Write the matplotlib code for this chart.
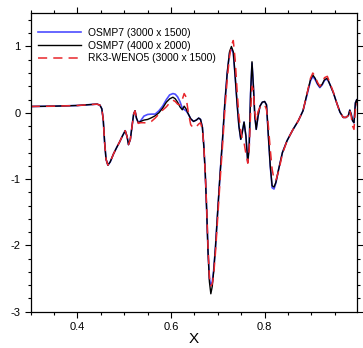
import matplotlib
matplotlib.use("Agg")
import matplotlib.pyplot as plt
from matplotlib.ticker import MultipleLocator

plt.rcParams["font.family"] = ["Liberation Sans", "DejaVu Sans"]
plt.rcParams["axes.unicode_minus"] = False

# shared x positions of the traced samples
x = [0.300, 0.350, 0.400, 0.430, 0.442, 0.448, 0.452, 0.455, 0.458, 0.461,
     0.465, 0.470, 0.477, 0.484, 0.490, 0.496, 0.502, 0.506, 0.509, 0.513,
     0.517, 0.520, 0.523, 0.526, 0.530, 0.535, 0.542, 0.550, 0.558, 0.566,
     0.574, 0.582, 0.590, 0.597, 0.604, 0.609, 0.614, 0.619, 0.624, 0.628,
     0.632, 0.637, 0.642, 0.648, 0.654, 0.659, 0.663, 0.667, 0.670, 0.673,
     0.676, 0.679, 0.682, 0.685, 0.688, 0.691, 0.695, 0.700, 0.705, 0.710,
     0.715, 0.720, 0.725, 0.729, 0.733, 0.737, 0.741, 0.745, 0.749, 0.752,
     0.756, 0.760, 0.764, 0.767, 0.770, 0.773, 0.776, 0.779, 0.782, 0.786,
     0.790, 0.795, 0.800, 0.804, 0.808, 0.812, 0.816, 0.820, 0.824, 0.830,
     0.838, 0.848, 0.860, 0.872, 0.882, 0.891, 0.898, 0.903, 0.908, 0.913,
     0.918, 0.923, 0.928, 0.934, 0.940, 0.947, 0.954, 0.961, 0.968, 0.974,
     0.979, 0.982, 0.985, 0.988, 0.991, 0.994, 0.997, 1.000]

# OSMP7 (4000 x 2000)
y_fine = [0.095, 0.100, 0.110, 0.125, 0.130, 0.115, 0.060, -0.10, -0.45, -0.70,
          -0.79, -0.74, -0.62, -0.52, -0.44, -0.35, -0.27, -0.36, -0.48, -0.40,
          -0.18, -0.02, 0.03, -0.08, -0.15, -0.13, -0.11, -0.10, -0.075, -0.045,
          0.00, 0.07, 0.16, 0.21, 0.235, 0.21, 0.16, 0.09, 0.045, 0.10,
          0.06, -0.02, -0.09, -0.13, -0.11, -0.08, -0.10, -0.22, -0.50, -0.90,
          -1.45, -2.10, -2.55, -2.73, -2.62, -2.40, -2.02, -1.45, -0.90, -0.40,
          0.15, 0.60, 0.92, 1.00, 0.92, 0.55, 0.15, -0.20, -0.40, -0.30,
          -0.14, -0.35, -0.75, -0.50, 0.30, 0.77, 0.40, -0.05, -0.25, -0.05,
          0.10, 0.16, 0.17, 0.12, -0.35, -0.80, -1.10, -1.12, -1.05, -0.85,
          -0.60, -0.42, -0.26, -0.12, 0.03, 0.30, 0.50, 0.57, 0.52, 0.44,
          0.39, 0.43, 0.50, 0.52, 0.42, 0.30, 0.15, 0.01, -0.07, -0.07,
          -0.04, 0.04, -0.02, -0.12, -0.15, 0.15, 0.20, 0.05]

# OSMP7 (3000 x 1500)
y_osmp = [0.095, 0.100, 0.110, 0.125, 0.130, 0.115, 0.060, -0.10, -0.45, -0.70,
          -0.79, -0.74, -0.62, -0.52, -0.44, -0.35, -0.27, -0.36, -0.48, -0.40,
          -0.18, -0.02, 0.03, -0.08, -0.15, -0.12, -0.05, -0.025, -0.02, -0.02,
          0.03, 0.10, 0.20, 0.27, 0.29, 0.28, 0.24, 0.17, 0.07, 0.05,
          0.03, -0.02, -0.09, -0.13, -0.11, -0.08, -0.10, -0.22, -0.50, -0.90,
          -1.45, -2.08, -2.50, -2.61, -2.55, -2.38, -2.02, -1.45, -0.90, -0.40,
          0.15, 0.60, 0.90, 0.97, 0.90, 0.55, 0.15, -0.20, -0.40, -0.30,
          -0.14, -0.35, -0.75, -0.50, 0.30, 0.75, 0.40, -0.05, -0.25, -0.05,
          0.10, 0.16, 0.17, 0.12, -0.35, -0.80, -1.13, -1.15, -1.06, -0.85,
          -0.60, -0.42, -0.26, -0.12, 0.03, 0.28, 0.48, 0.55, 0.50, 0.43,
          0.38, 0.42, 0.49, 0.51, 0.42, 0.30, 0.15, 0.01, -0.07, -0.07,
          -0.04, 0.04, -0.02, -0.12, -0.15, 0.15, 0.20, 0.05]

# RK3-WENO5 (3000 x 1500)
y_weno = [0.095, 0.100, 0.110, 0.125, 0.130, 0.115, 0.060, -0.10, -0.45, -0.70,
          -0.79, -0.74, -0.62, -0.52, -0.44, -0.35, -0.27, -0.36, -0.48, -0.40,
          -0.18, -0.02, 0.03, -0.08, -0.16, -0.15, -0.15, -0.155, -0.13, -0.08,
          -0.02, 0.04, 0.09, 0.15, 0.19, 0.17, 0.13, 0.12, 0.20, 0.29,
          0.24, 0.00, -0.18, -0.23, -0.21, -0.17, -0.15, -0.25, -0.50, -0.90,
          -1.40, -2.02, -2.48, -2.61, -2.58, -2.45, -2.10, -1.55, -1.00, -0.50,
          0.05, 0.50, 0.85, 1.02, 1.09, 0.80, 0.35, -0.05, -0.28, -0.38,
          -0.45, -0.62, -0.76, -0.55, 0.00, 0.40, 0.35, 0.00, -0.12, 0.02,
          0.08, 0.12, 0.12, 0.05, -0.20, -0.55, -0.85, -1.00, -1.02, -0.88,
          -0.62, -0.42, -0.26, -0.12, 0.03, 0.30, 0.52, 0.60, 0.55, 0.46,
          0.40, 0.45, 0.53, 0.55, 0.44, 0.31, 0.15, 0.01, -0.07, -0.07,
          -0.04, 0.04, -0.05, -0.20, -0.25, 0.05, 0.15, 0.05]

fig = plt.figure(figsize=(3.63, 3.48), dpi=100)
ax = fig.add_axes([0.0846, 0.1043, 0.8996, 0.8574])

ax.plot(x, y_osmp, color="#4d4dff", linewidth=1.2, label="OSMP7 (3000 x 1500)")
ax.plot(x, y_fine, color="black", linewidth=1.0, label="OSMP7 (4000 x 2000)")
ax.plot(x, y_weno, color="#e8262b", linewidth=1.1, dashes=(6, 4),
        label="RK3-WENO5 (3000 x 1500)")

# right edge a hair short of 1.0 so the reference's missing "1.0" label stays off
ax.set_xlim(0.3, 0.998)
ax.set_ylim(-3, 1.5)
ax.xaxis.set_major_locator(MultipleLocator(0.2))
ax.xaxis.set_minor_locator(MultipleLocator(0.05))
ax.yaxis.set_major_locator(MultipleLocator(1))
ax.yaxis.set_minor_locator(MultipleLocator(0.2))
ax.tick_params(which="both", direction="out", top=True, right=True,
               labeltop=False, labelright=False, width=0.8, labelsize=8)
ax.tick_params(which="major", length=4.5, pad=3)
ax.tick_params(which="minor", length=2.5)
for sp in ax.spines.values():
    sp.set_linewidth(0.9)

ax.set_xlabel("X", fontsize=11, labelpad=0)

ax.legend(loc="upper left", bbox_to_anchor=(0.0, 0.975), frameon=False,
          fontsize=7.4, handlelength=4.2, handletextpad=0.7,
          labelspacing=0.25, borderaxespad=0.3)

fig.savefig("out.png", dpi=100)
